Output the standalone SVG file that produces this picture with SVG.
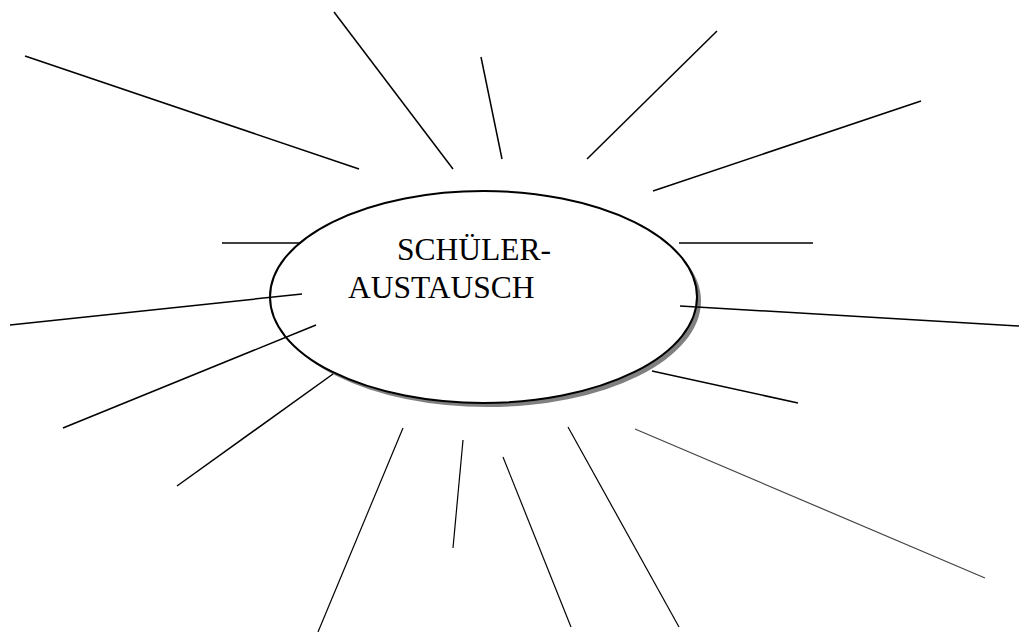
<svg xmlns="http://www.w3.org/2000/svg" width="1021" height="632" viewBox="0 0 1021 632">
<style>
.ray{stroke:#000;stroke-width:1.5;fill:none}
.thin{stroke-width:1.2}
.grey{stroke:#444}
.lbl{font-family:"Liberation Serif","Times New Roman",serif;font-size:31.5px;fill:#000}
</style>
<rect width="1021" height="632" fill="#fff"/>
<g id="center">
<ellipse cx="487.5" cy="301" rx="213.5" ry="106" fill="#808080"/>
<ellipse cx="483.5" cy="297" rx="213.5" ry="106" fill="#fff" stroke="#000" stroke-width="2"/>
<text class="lbl" x="397" y="260">SCHÜLER-</text>
<text class="lbl" x="348" y="298">AUSTAUSCH</text>
</g>
<g id="connectors">
<line class="ray" x1="25" y1="56" x2="359" y2="169"/>
<line class="ray" x1="334" y1="12" x2="453" y2="169"/>
<line class="ray" x1="481" y1="57" x2="502" y2="159"/>
<line class="ray" x1="717" y1="31" x2="587" y2="159"/>
<line class="ray" x1="921" y1="101" x2="653" y2="191"/>
<line class="ray" x1="222" y1="243" x2="301" y2="243"/>
<line class="ray" x1="679" y1="243" x2="813" y2="243"/>
<line class="ray" x1="10" y1="325" x2="302" y2="294"/>
<line class="ray" x1="680" y1="306" x2="1019" y2="326"/>
<line class="ray" x1="63" y1="428" x2="316" y2="325"/>
<line class="ray" x1="652" y1="371" x2="798" y2="403"/>
<line class="ray" x1="177" y1="486" x2="333" y2="374"/>
<line class="ray thin" x1="318" y1="632" x2="403" y2="428"/>
<line class="ray thin" x1="453" y1="548" x2="463" y2="440"/>
<line class="ray thin" x1="571" y1="627" x2="503" y2="457"/>
<line class="ray thin" x1="679" y1="627" x2="568" y2="427"/>
<line class="ray thin grey" x1="985" y1="578" x2="635" y2="429"/>
</g>
</svg>
